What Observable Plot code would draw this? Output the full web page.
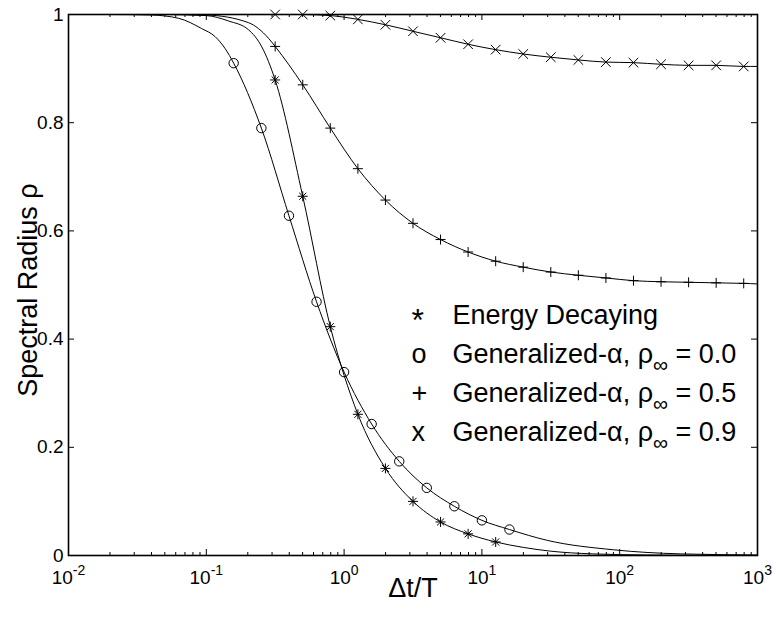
<!DOCTYPE html>
<html><head><meta charset="utf-8">
<script src="https://cdn.jsdelivr.net/npm/d3@7"></script>
<script src="https://cdn.jsdelivr.net/npm/@observablehq/plot@0.6"></script>
<style>body{margin:0;background:#fff;} #chart{width:773px;height:622px;}</style>
</head><body><div id="chart"></div>
<script>
// ---- data ----
// Energy Decaying (*)
const edX = [0.316, 0.501, 0.794, 1.259, 1.995, 3.162, 5.012, 7.943, 12.59];
const edY = [0.879, 0.664, 0.423, 0.261, 0.161, 0.100, 0.062, 0.040, 0.025];
const edLineX = [0.01, 0.05, 0.1, 0.145, 0.202, 0.253, 0.316, 0.501, 0.794, 1.259, 1.995, 3.162, 5.012, 7.943, 12.59, 19.95, 31.6, 63.1, 158, 1000];
const edLineY = [1.0, 1.0, 0.998, 0.988, 0.972, 0.940, 0.879, 0.664, 0.423, 0.261, 0.161, 0.100, 0.062, 0.040, 0.025, 0.015, 0.008, 0.003, 0.001, 0.0];
// Generalized-alpha rho_inf = 0.0 (o)
const ga0X = [0.158, 0.251, 0.398, 0.631, 1.0, 1.585, 2.512, 3.981, 6.310, 10.0, 15.85];
const ga0Y = [0.910, 0.790, 0.628, 0.469, 0.339, 0.243, 0.174, 0.125, 0.091, 0.065, 0.048];
const ga0LineX = [0.01, 0.02, 0.04, 0.063, 0.0925, 0.116, 0.137, 0.158, 0.251, 0.398, 0.631, 1.0, 1.585, 2.512, 3.981, 6.310, 10.0, 15.85, 29.8, 90.6, 275, 1000];
const ga0LineY = [1.0, 1.0, 0.999, 0.993, 0.974, 0.959, 0.937, 0.910, 0.790, 0.628, 0.469, 0.339, 0.243, 0.174, 0.125, 0.091, 0.065, 0.048, 0.028, 0.0105, 0.003, 0.001];
// Generalized-alpha rho_inf = 0.5 (+)
const ga5X = [0.316, 0.501, 0.794, 1.259, 1.995, 3.162, 5.012, 7.943, 12.59, 19.95, 31.62, 50.12, 79.43, 125.9, 199.5, 316.2, 501.2, 794.3];
const ga5Y = [0.941, 0.870, 0.790, 0.715, 0.657, 0.614, 0.584, 0.561, 0.544, 0.533, 0.524, 0.518, 0.513, 0.508, 0.506, 0.505, 0.504, 0.503];
const ga5LineX = [0.01, 0.05, 0.1, 0.202, 0.283, 0.316, 0.501, 0.794, 1.259, 1.995, 3.162, 5.012, 7.943, 12.59, 19.95, 31.62, 50.12, 79.43, 125.9, 199.5, 316.2, 501.2, 794.3, 1000];
const ga5LineY = [1.0, 1.0, 0.999, 0.985, 0.956, 0.941, 0.870, 0.790, 0.715, 0.657, 0.614, 0.584, 0.561, 0.544, 0.533, 0.524, 0.518, 0.513, 0.508, 0.506, 0.505, 0.504, 0.503, 0.502];
// Generalized-alpha rho_inf = 0.9 (x)
const ga9X = [0.316, 0.501, 0.794, 1.259, 1.995, 3.162, 5.012, 7.943, 12.59, 19.95, 31.62, 50.12, 79.43, 125.9, 199.5, 316.2, 501.2, 794.3];
const ga9Y = [1.000, 1.000, 0.998, 0.991, 0.981, 0.969, 0.957, 0.945, 0.935, 0.927, 0.921, 0.916, 0.912, 0.911, 0.908, 0.906, 0.906, 0.904];
const ga9LineX = [0.01, 0.1, 0.316, 0.501, 0.794, 1.259, 1.995, 3.162, 5.012, 7.943, 12.59, 19.95, 31.62, 50.12, 79.43, 125.9, 199.5, 316.2, 501.2, 794.3, 1000];
const ga9LineY = [1.0, 1.0, 1.000, 1.000, 0.998, 0.991, 0.981, 0.969, 0.957, 0.945, 0.935, 0.927, 0.921, 0.916, 0.912, 0.911, 0.908, 0.906, 0.906, 0.904, 0.904];

// ticks and labels
const xMajor = [0.01, 0.1, 1, 10, 100, 1000];
const xTickLabels = ["10^-2", "10^-1", "10^0", "10^1", "10^2", "10^3"];
const xMinorMult = [2, 3, 4, 5, 6, 7, 8, 9];
const yTicks = [0, 0.2, 0.4, 0.6, 0.8, 1];
const yTickLabels = ["0", "0.2", "0.4", "0.6", "0.8", "1"];
const xLabel = "Δt/T";
const yLabel = "Spectral Radius ρ";
const legendSymbols = ["*", "o", "+", "x"];
const legendLabels = ["Energy Decaying", "Generalized-α, ρ_∞ = 0.0", "Generalized-α, ρ_∞ = 0.5", "Generalized-α, ρ_∞ = 0.9"];

// ---- helpers ----
const zip = (xs, ys) => xs.map((x, i) => ({x, y: ys[i]}));
const xMinor = xMajor.slice(0, -1).flatMap(d => xMinorMult.map(k => d * k));

const symPlus = {draw(ctx, size) { const r = Math.sqrt(size / Math.PI);
  ctx.moveTo(-r, 0); ctx.lineTo(r, 0); ctx.moveTo(0, -r); ctx.lineTo(0, r); }};
const symTimes = {draw(ctx, size) { const r = Math.sqrt(size / Math.PI) * 0.8;
  ctx.moveTo(-r, -r); ctx.lineTo(r, r); ctx.moveTo(-r, r); ctx.lineTo(r, -r); }};
const symAst = {draw(ctx, size) { const r = Math.sqrt(size / Math.PI); const d = r * 0.707;
  ctx.moveTo(-r, 0); ctx.lineTo(r, 0); ctx.moveTo(0, -r); ctx.lineTo(0, r);
  ctx.moveTo(-d, -d); ctx.lineTo(d, d); ctx.moveTo(-d, d); ctx.lineTo(d, -d); }};

const W = 773, H = 622, mL = 68, mR = 16, mT = 14, mB = 67;
const iw = W - mL - mR, ih = H - mT - mB;
const font = "Liberation Sans, Arial, Helvetica, sans-serif";

const lineOpts = {x: "x", y: "y", stroke: "black", strokeWidth: 1, curve: "monotone-x"};
const dotOpts = {x: "x", y: "y", fill: "none", stroke: "black", strokeWidth: 1};

const chart = Plot.plot({
  width: W, height: H,
  marginLeft: mL, marginRight: mR, marginTop: mT, marginBottom: mB,
  style: {fontFamily: font, background: "white", color: "black"},
  x: {type: "log", domain: [0.01, 1000], axis: null},
  y: {domain: [0, 1], axis: null},
  marks: [
    // curves
    Plot.line(zip(ga0LineX, ga0LineY), lineOpts),
    Plot.line(zip(edLineX, edLineY), lineOpts),
    Plot.line(zip(ga5LineX, ga5LineY), lineOpts),
    Plot.line(zip(ga9LineX, ga9LineY), lineOpts),
    // markers
    Plot.dot(zip(ga0X, ga0Y), {...dotOpts, symbol: "circle", r: 4.7}),
    Plot.dot(zip(edX, edY), {...dotOpts, symbol: symAst, r: 5}),
    Plot.dot(zip(ga5X, ga5Y), {...dotOpts, symbol: symPlus, r: 5}),
    Plot.dot(zip(ga9X, ga9Y), {...dotOpts, symbol: symTimes, r: 6}),
    // inward ticks (bottom / top)
    Plot.ruleX(xMajor, {x: d => d, insetTop: ih - 6, stroke: "black"}),
    Plot.ruleX(xMajor, {x: d => d, insetBottom: ih - 6, stroke: "black"}),
    Plot.ruleX(xMinor, {x: d => d, insetTop: ih - 3, stroke: "black"}),
    Plot.ruleX(xMinor, {x: d => d, insetBottom: ih - 3, stroke: "black"}),
    // inward ticks (left / right)
    Plot.ruleY(yTicks, {y: d => d, insetRight: iw - 6, stroke: "black"}),
    Plot.ruleY(yTicks, {y: d => d, insetLeft: iw - 6, stroke: "black"}),
    Plot.frame({stroke: "black", strokeWidth: 1.6}),
    // tick labels
    Plot.text(xMajor, {x: d => d, text: (d, i) => xTickLabels[i], frameAnchor: "bottom", lineAnchor: "bottom", dy: 28, fontSize: 19, fill: "black"}),
    Plot.text(yTicks, {y: d => d, text: (d, i) => yTickLabels[i], frameAnchor: "left", textAnchor: "end", dx: -5, fontSize: 19, fill: "black"}),
    // axis titles
    Plot.text([xLabel], {text: d => d, frameAnchor: "bottom", textAnchor: "middle", dy: 41, fontSize: 27, fill: "black"}),
    Plot.text([yLabel], {text: d => d, frameAnchor: "left", textAnchor: "middle", rotate: -90, dx: -40, dy: 5, fontSize: 27, fill: "black"}),
    // legend
    ...legendSymbols.map((s, i) => Plot.text([s], {text: d => d, frameAnchor: "top-left", textAnchor: "start", lineAnchor: "bottom", dx: 343, dy: 309 + 39 * i + (s === "*" ? 7 : 0), fontSize: s === "*" ? 32 : 27, fill: "black"})),
    ...legendLabels.map((s, i) => Plot.text([s], {text: d => d, frameAnchor: "top-left", textAnchor: "start", lineAnchor: "bottom", dx: 384, dy: 309 + 39 * i, fontSize: 27, fill: "black"}))
  ]
});

// superscripts / subscripts as real tspans
const NS = "http://www.w3.org/2000/svg";
chart.querySelectorAll("text").forEach(t => {
  const s = t.textContent;
  if (s.includes("^")) {
    const [base, exp] = s.split("^");
    t.textContent = base;
    const sup = document.createElementNS(NS, "tspan");
    sup.setAttribute("dy", "-9"); sup.setAttribute("font-size", "14");
    sup.textContent = exp;
    t.appendChild(sup);
  } else if (s.includes("_")) {
    const idx = s.indexOf("_");
    const before = s.slice(0, idx), sub = s.slice(idx + 1, idx + 2), after = s.slice(idx + 2);
    t.textContent = before;
    const ts = document.createElementNS(NS, "tspan");
    ts.setAttribute("dy", "9"); ts.setAttribute("font-size", "21");
    ts.textContent = sub;
    const ta = document.createElementNS(NS, "tspan");
    ta.setAttribute("dy", "-9");
    ta.textContent = after;
    t.appendChild(ts); t.appendChild(ta);
  }
});
document.getElementById("chart").appendChild(chart);
</script></body></html>
